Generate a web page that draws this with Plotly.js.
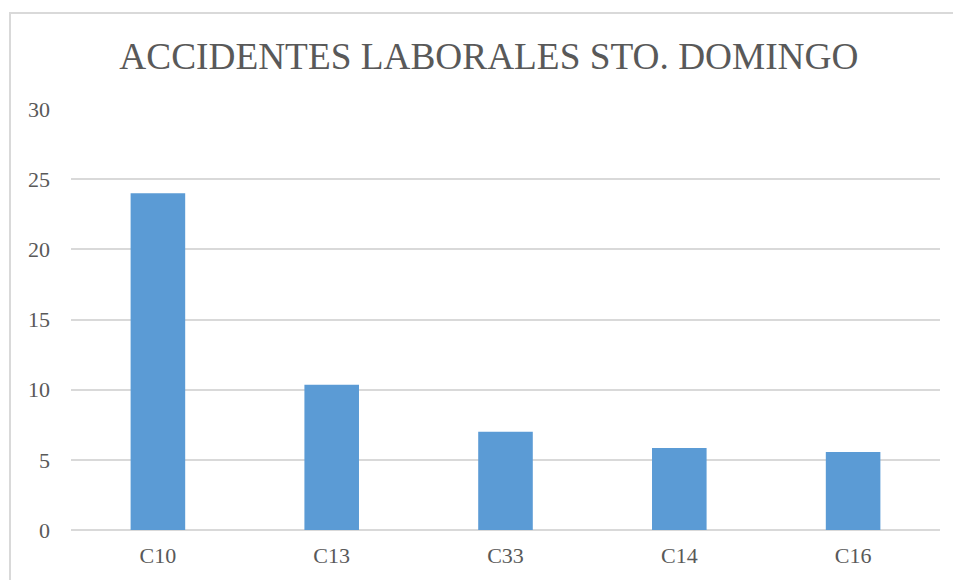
<!DOCTYPE html>
<html>
<head>
<meta charset="utf-8">
<script src="https://cdn.plot.ly/plotly-3.0.1.min.js"></script>
<style>
  body { margin: 0; background: #fff; }
  #grafica { position: absolute; left: 0; top: 0; width: 953px; height: 580px; }
  #marco { position: absolute; left: 9px; top: 12px; width: 960px; height: 600px;
           border-left: 2px solid #d9d9d9; border-top: 2px solid #d9d9d9; pointer-events: none; }
</style>
</head>
<body>
<div id="grafica"></div>
<div id="marco"></div>
<script>
const categorias = ['C10', 'C13', 'C33', 'C14', 'C16'];
const accidentes = [24, 10.35, 7, 5.85, 5.55];
const ticksY = [0, 5, 10, 15, 20, 25, 30];

const fuente = { family: '"Liberation Serif", "Times New Roman", serif', color: '#595959' };

const traza = {
  x: categorias,
  y: accidentes,
  type: 'bar',
  marker: { color: '#5b9bd5' },
  hoverinfo: 'x+y'
};

const layout = {
  width: 953,
  height: 580,
  paper_bgcolor: '#ffffff',
  plot_bgcolor: '#ffffff',
  font: { ...fuente, size: 22 },
  title: {
    text: 'ACCIDENTES LABORALES STO. DOMINGO',
    font: { ...fuente, size: 37.3 },
    x: 0.513,
    xanchor: 'center',
    y: 0.903,
    yanchor: 'middle'
  },
  bargap: 0.686,
  showlegend: false,
  xaxis: {
    type: 'category',
    showgrid: false,
    showline: false,
    ticks: '',
    ticklabelstandoff: 10,
    tickfont: { ...fuente, size: 22 }
  },
  yaxis: {
    range: [0, 30],
    tickvals: ticksY,
    showgrid: true,
    gridcolor: '#d9d9d9',
    gridwidth: 1.5,
    zeroline: true,
    zerolinecolor: '#d9d9d9',
    zerolinewidth: 1.5,
    showline: false,
    ticks: '',
    ticklabelstandoff: 20,
    tickfont: { ...fuente, size: 22 }
  },
  margin: { l: 71, r: 13, t: 109, b: 50 }
};

Plotly.newPlot('grafica', [traza], layout, { displayModeBar: false, responsive: false });
</script>
</body>
</html>
